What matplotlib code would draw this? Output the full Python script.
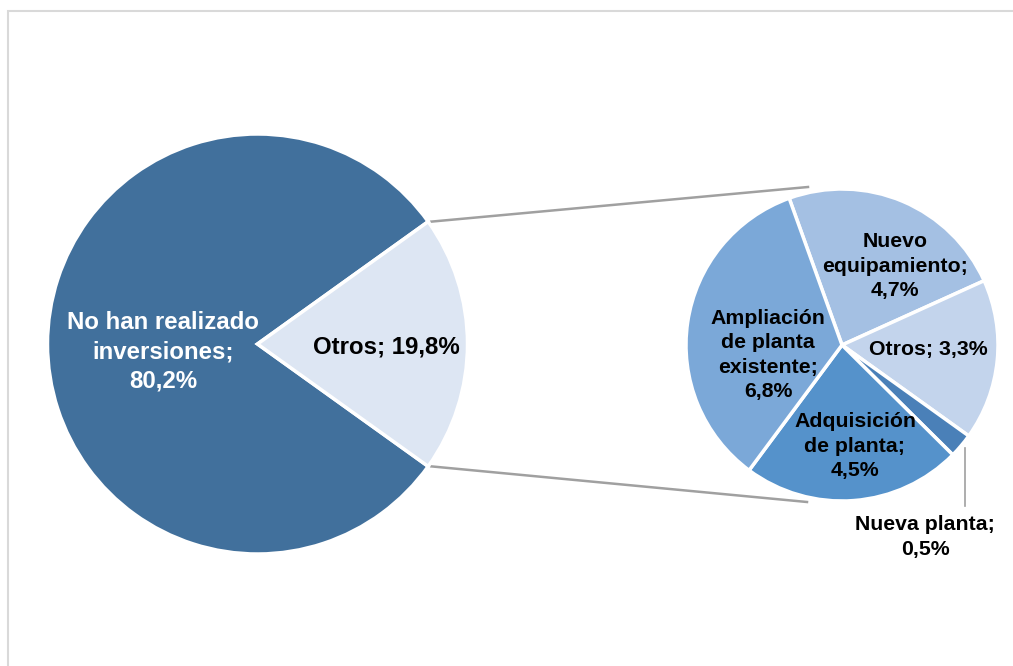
import numpy as np
import matplotlib.pyplot as plt
from matplotlib.patches import Rectangle

plt.rcParams['font.family'] = ['Liberation Sans', 'DejaVu Sans']

# Data
main_labels = ["No han realizado\ninversiones;\n80,2%", "Otros; 19,8%"]
main_values = [80.2, 19.8]
main_colors = ["#41709C", "#DDE6F3"]

# breakdown of "Otros", clockwise from the top
sub_labels = ["Nuevo\nequipamiento;\n4,7%",
              "Otros; 3,3%",
              "Nueva planta;\n0,5%",
              "Adquisición\nde planta;\n4,5%",
              "Ampliación\nde planta\nexistente;\n6,8%"]
sub_values = [4.7, 3.3, 0.5, 4.5, 6.8]
sub_colors = ["#A4C0E3", "#C3D4EC", "#4A80B8", "#5592CB", "#7BA8D8"]

# Layout (pixel coords, y up)
W, H = 1013, 666
c1, r1 = (257.5, H - 344), 210
c2, r2 = (842, H - 345), 156

fig = plt.figure(figsize=(W / 100, H / 100), dpi=100)
ax = fig.add_axes([0, 0, 1, 1])

# frame
ax.add_patch(Rectangle((8, -5), W + 10, H - 11 + 5, fill=False,
                       edgecolor="#D9D9D9", linewidth=1.5))

# main pie, "Otros" centred on the right
half_deg = main_values[1] / 100 * 360 / 2
ax.pie(main_values, colors=main_colors, center=c1, radius=r1,
       startangle=-half_deg, counterclock=False,
       wedgeprops=dict(edgecolor="white", linewidth=2.5), frame=True)

# sub pie
ax.pie(sub_values, colors=sub_colors, center=c2, radius=r2,
       startangle=109.8, counterclock=False,
       wedgeprops=dict(edgecolor="white", linewidth=2.5), frame=True)

ax.set_xlim(0, W)
ax.set_ylim(0, H)
ax.set_aspect('equal')
ax.axis('off')

# connector lines
half = np.radians(half_deg)
p_top = (c1[0] + r1 * np.cos(half), c1[1] + r1 * np.sin(half))
p_bot = (c1[0] + r1 * np.cos(half), c1[1] - r1 * np.sin(half))
ax.plot([p_top[0] + 3, 808], [p_top[1], H - 187], color="#A0A0A0", lw=1.8, zorder=0)
ax.plot([p_bot[0] + 3, 807], [p_bot[1], H - 502], color="#A0A0A0", lw=1.8, zorder=0)

ax.text(163, H - 352, main_labels[0], color="white", fontsize=17.3, fontweight="bold",
        ha="center", va="center", linespacing=1.35)
ax.text(386, H - 347, main_labels[1], color="black", fontsize=17.3, fontweight="bold",
        ha="center", va="center")

sub_pos = [(895, 266), (928, 349), (925, 537), (855, 446), (768, 355)]
for lab, (x, y) in zip(sub_labels, sub_pos):
    ax.text(x, H - y, lab, color="black", fontsize=15.3, fontweight="bold",
            ha="center", va="center", linespacing=1.35)

# leader for the small slice
ax.plot([965, 965], [H - 448, H - 506], color="#A0A0A0", lw=1.2)

fig.savefig("out.png", dpi=100)
